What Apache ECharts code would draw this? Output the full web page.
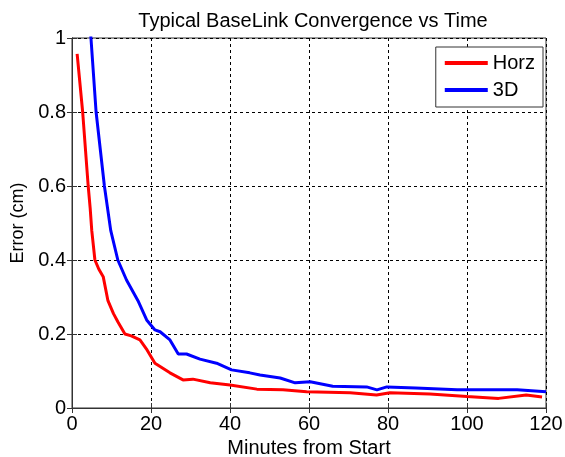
<!DOCTYPE html>
<html><head><meta charset="utf-8">
<script src="https://cdn.jsdelivr.net/npm/echarts@6/dist/echarts.min.js"></script>
<style>html,body{margin:0;padding:0;background:#fff}#c{width:565px;height:457px}</style>
</head><body><div id="c"></div>
<script>
var title = 'Typical BaseLink Convergence vs Time';
var xName = 'Minutes from Start';
var yName = 'Error (cm)';
var seriesNames = ['Horz', '3D'];
var horz = [[1.3,0.957],[2.7,0.8],[4.1,0.6],[4.6,0.54],[5.0,0.48],[5.8,0.4],[6.8,0.375],[7.9,0.355],[9.1,0.29],[10.5,0.255],[11.6,0.233],[13.4,0.2],[15,0.195],[17.2,0.184],[19,0.157],[21,0.121],[24.8,0.095],[28.1,0.076],[30.6,0.078],[35,0.068],[40,0.062],[46.8,0.051],[53.4,0.049],[59.4,0.044],[70.4,0.041],[77.1,0.035],[80.5,0.041],[90.6,0.038],[100,0.031],[108,0.026],[115,0.035],[119,0.03]];
var d3 = [[4.5,1.05],[4.8,1.0],[6.1,0.8],[8.2,0.6],[9.8,0.48],[11.6,0.4],[13.8,0.346],[16.7,0.29],[18.9,0.238],[21,0.211],[22.3,0.206],[24.8,0.184],[26.9,0.146],[29,0.146],[32.4,0.132],[36.6,0.121],[40.4,0.103],[45,0.095],[47.6,0.089],[52.7,0.081],[56.5,0.068],[60.3,0.071],[66,0.059],[74.6,0.057],[77.2,0.049],[79.7,0.057],[87,0.054],[97.5,0.049],[112.7,0.049],[120,0.044]];

var font = 'Liberation Sans, Arial, sans-serif';
var chart = echarts.init(document.getElementById('c'));
function axisCommon(showLabel, grid) {
  return {
    axisLine: {show: true, lineStyle: {color: '#333', width: 1}},
    axisTick: {show: true, inside: true, length: 5, lineStyle: {color: '#333'}},
    axisLabel: {show: showLabel, color: '#000', fontSize: 20, fontFamily: font},
    splitLine: {show: grid, lineStyle: {color: '#000', type: [3, 3], width: 1}}
  };
}
var xBase = {type: 'value', min: 0, max: 120, interval: 20};
var yBase = {type: 'value', min: 0, max: 1, interval: 0.2};
chart.setOption({
  animation: false,
  title: {text: title, left: 308, top: 6, textAlign: 'center',
    textStyle: {fontSize: 20, fontWeight: 'normal', color: '#000', fontFamily: font}},
  grid: {left: 72, right: 19, top: 38, bottom: 49, show: true, borderColor: '#333', borderWidth: 1,
    backgroundColor: '#fff', containLabel: false, outerBoundsMode: 'none'},
  legend: {
    orient: 'vertical', right: 22, top: 47,
    data: seriesNames,
    backgroundColor: '#fff', borderColor: '#333', borderWidth: 1,
    padding: [5, 8, 6, 9], itemGap: 5, itemWidth: 43, itemHeight: 4,
    icon: 'rect',
    textStyle: {fontSize: 20, color: '#000', fontFamily: font, lineHeight: 22}
  },
  xAxis: [
    Object.assign({}, xBase, axisCommon(true, true), {position: 'bottom',
      name: xName, nameLocation: 'middle', nameGap: 27,
      nameTextStyle: {fontSize: 20, color: '#000', fontFamily: font},
      axisLabel: {color: '#000', fontSize: 20, fontFamily: font, margin: 6}}),
    Object.assign({}, xBase, axisCommon(false, false), {position: 'top'})
  ],
  yAxis: [
    Object.assign({}, yBase, axisCommon(true, true), {position: 'left',
      name: yName, nameLocation: 'middle', nameGap: 44,
      nameTextStyle: {fontSize: 18, color: '#000', fontFamily: font},
      axisLabel: {color: '#000', fontSize: 20, fontFamily: font, margin: 6}}),
    Object.assign({}, yBase, axisCommon(false, false), {position: 'right'})
  ],
  series: [
    {name: seriesNames[0], type: 'line', data: horz, showSymbol: false, symbol: 'none', clip: true,
      lineStyle: {color: '#ff0000', width: 3}, itemStyle: {color: '#ff0000'}},
    {name: seriesNames[1], type: 'line', data: d3, showSymbol: false, symbol: 'none', clip: true,
      lineStyle: {color: '#0000ff', width: 3}, itemStyle: {color: '#0000ff'}}
  ]
});
</script></body></html>
